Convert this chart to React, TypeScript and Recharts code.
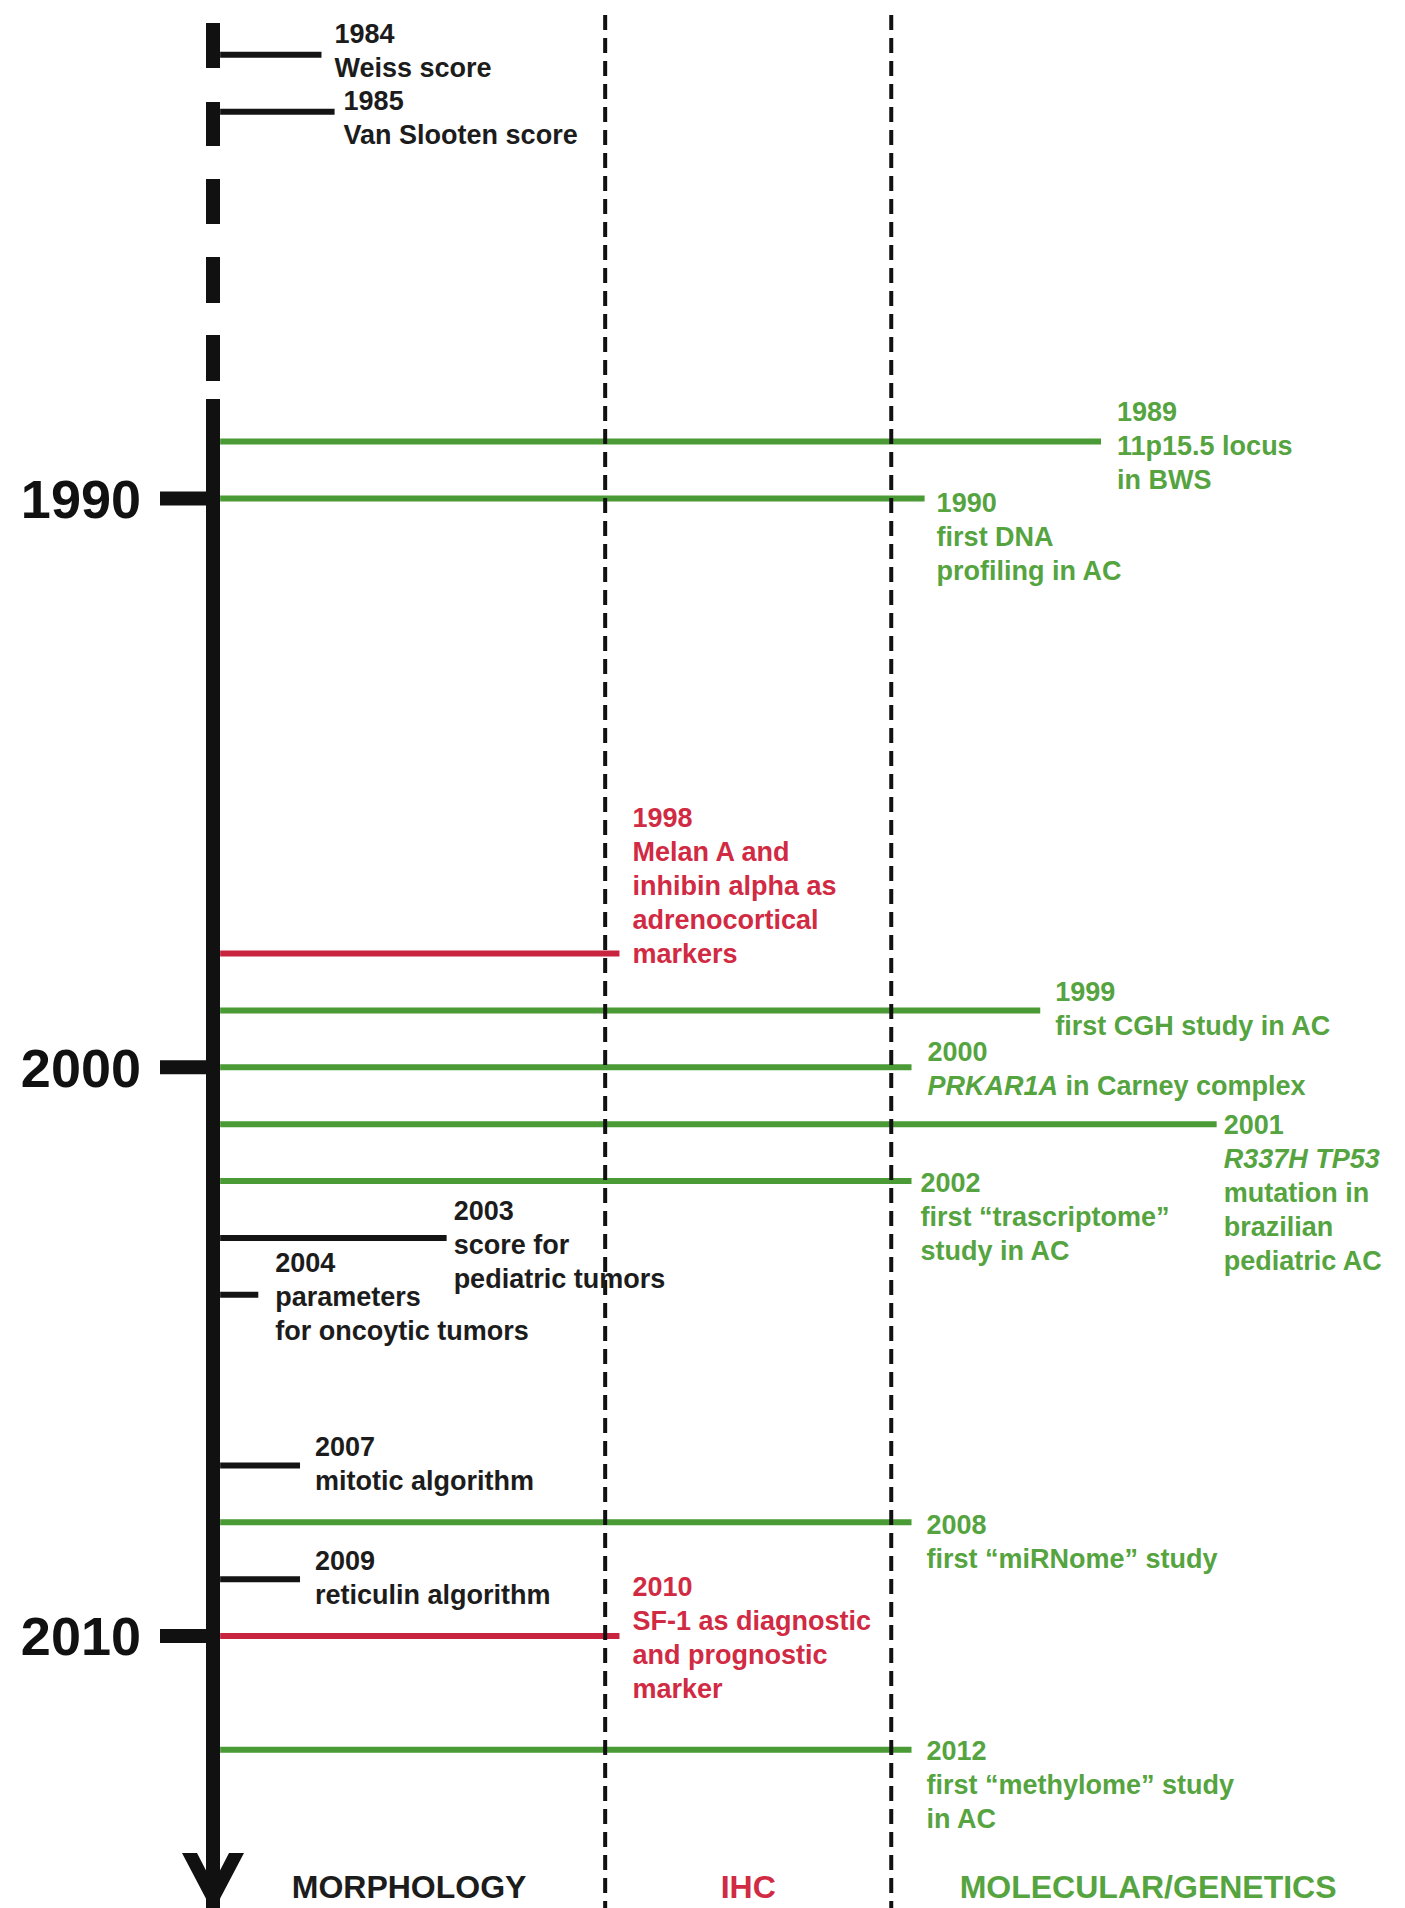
import {
  ScatterChart,
  Scatter,
  XAxis,
  YAxis,
  ReferenceLine,
  ReferenceDot,
} from "recharts";

// one entry per event on the timeline
const years = [1984, 1985, 1989, 1990, 1998, 1999, 2000, 2001, 2002, 2003, 2004, 2007, 2008, 2009, 2010, 2012];
const fields = ["morph", "morph", "mol", "mol", "ihc", "mol", "mol", "mol", "mol", "morph", "morph", "morph", "mol", "morph", "ihc", "mol"];
// how far each marker line reaches to the right (0-100 of the chart width)
const reach = [9.1, 10.2, 74.5, 59.7, 34.1, 69.4, 58.6, 84.2, 58.6, 19.6, 3.8, 7.3, 58.6, 7.3, 34.1, 58.6];
const notes: string[][] = [
  ["Weiss score"],
  ["Van Slooten score"],
  ["11p15.5 locus", "in BWS"],
  ["first DNA", "profiling in AC"],
  ["Melan A and", "inhibin alpha as", "adrenocortical", "markers"],
  ["first CGH study in AC"],
  ["*PRKAR1A* in Carney complex"],
  ["*R337H TP53*", "mutation in", "brazilian", "pediatric AC"],
  ["first \u201ctrascriptome\u201d", "study in AC"],
  ["score for", "pediatric tumors"],
  ["parameters", "for oncoytic tumors"],
  ["mitotic algorithm"],
  ["first \u201cmiRNome\u201d study"],
  ["reticulin algorithm"],
  ["SF-1 as diagnostic", "and prognostic", "marker"],
  ["first \u201cmethylome\u201d study", "in AC"],
];

const decadeTicks = [1990, 2000, 2010];
const columnNames = ["MORPHOLOGY", "IHC", "MOLECULAR/GENETICS"];
const columnEdges = [0, 32.9, 56.9, 100];
const columnKeys = ["morph", "ihc", "mol"];

// which text row sits on the marker line, and the gap before the text
const labelRow = [0.62, 0.34, 0.9, -0.1, 4, 0.55, 0.46, 0, -0.05, 0.82, 0.95, 0.56, -0.05, 0.55, 1.45, 0];
const labelGap = [13, 9, 16, 12, 13, 15, 16, 7, 9, 7, 17, 15, 15, 15, 13, 15];

const LINE_COLORS: Record<string, string> = { morph: "#141414", ihc: "#c8233f", mol: "#4a9a35" };
const TEXT_COLORS: Record<string, string> = { morph: "#1c1c1c", ihc: "#d12a43", mol: "#55a43f" };
const FONT = "'Liberation Sans', Arial, Helvetica, sans-serif";
const ROW_H = 34;

// the years before the break are drawn on the dashed stretch of the axis
const BREAK_BEFORE = 1988;
const BREAK_SHIFT = 1.8;
const axisPos = (y: number) => (y < BREAK_BEFORE ? y - BREAK_SHIFT : y);

const Y_MIN = 1981.5;
const Y_MAX = 2014.5;

const points = years.map((y, i) => ({ reach: reach[i], pos: axisPos(y), idx: i }));
const columnMids = columnEdges.slice(0, -1).map((e, i) => (e + columnEdges[i + 1]) / 2);

function richText(line: string) {
  return line.split("*").map((part, k) => (
    <tspan key={k} fontStyle={k % 2 === 1 ? "italic" : "normal"}>
      {part}
    </tspan>
  ));
}

function EventLabel(props: any) {
  const { cx, cy, payload } = props;
  const i = payload.idx;
  const rows = [String(years[i]), ...notes[i]];
  const x = cx + labelGap[i];
  return (
    <g>
      {rows.map((r, k) => (
        <text
          key={k}
          x={x}
          y={cy + (k - labelRow[i]) * ROW_H}
          dy="0.36em"
          fontFamily={FONT}
          fontWeight="bold"
          fontSize={27}
          fill={TEXT_COLORS[fields[i]]}
        >
          {richText(r)}
        </text>
      ))}
    </g>
  );
}

function DecadeTick(props: any) {
  const { x, y, payload } = props;
  return (
    <g>
      <line x1={x - 53} x2={x} y1={y} y2={y} stroke="#111" strokeWidth={14} />
      <text
        x={x - 72}
        y={y}
        dy="0.36em"
        textAnchor="end"
        fontFamily={FONT}
        fontWeight="bold"
        fontSize={54}
        fill="#111"
      >
        {payload.value}
      </text>
    </g>
  );
}

function ColumnTick(props: any) {
  const { x, y, index } = props;
  return (
    <text
      x={x}
      y={y}
      dy={6}
      textAnchor="middle"
      fontFamily={FONT}
      fontWeight="bold"
      fontSize={32}
      fill={TEXT_COLORS[columnKeys[index]]}
    >
      {columnNames[index]}
    </text>
  );
}

function ArrowHead(props: any) {
  const { cx, cy } = props;
  const top = cy - 39;
  const pts = [
    [cx - 31, top],
    [cx, cy + 20],
    [cx + 31, top],
    [cx + 16, top],
    [cx, cy - 8],
    [cx - 16, top],
  ]
    .map((p) => p.join(","))
    .join(" ");
  return (
    <g>
      <rect x={cx - 7} y={cy - 20} width={14} height={36} fill="#111" />
      <polygon points={pts} fill="#111" />
    </g>
  );
}

export default function App() {
  return (
    <div style={{ position: "absolute", left: 0, top: 0, width: 1405, height: 1908, background: "#fff" }}>
      <ScatterChart width={1405} height={1908} margin={{ top: 15, right: 0, bottom: 0, left: 0 }}>
        <XAxis
          type="number"
          dataKey="reach"
          domain={[0, 100]}
          ticks={columnMids}
          tick={<ColumnTick />}
          axisLine={false}
          tickLine={false}
          tickSize={0}
          tickMargin={0}
          height={16}
          interval={0}
        />
        <YAxis
          type="number"
          dataKey="pos"
          domain={[Y_MIN, Y_MAX]}
          reversed
          ticks={decadeTicks}
          tick={<DecadeTick />}
          tickLine={false}
          tickSize={0}
          tickMargin={0}
          width={213}
          interval={0}
          axisLine={{
            stroke: "#111",
            strokeWidth: 14,
            strokeDasharray: "0 8 45 34 44 33 45 33 46 32 46 18 4000",
          }}
        />

        {years.map((y, i) => (
          <ReferenceLine
            key={`ev-${y}-${i}`}
            segment={[
              { x: 0.6, y: axisPos(y) },
              { x: reach[i], y: axisPos(y) },
            ]}
            stroke={LINE_COLORS[fields[i]]}
            strokeWidth={6}
            ifOverflow="visible"
          />
        ))}

        {columnEdges.slice(1, -1).map((e) => (
          <ReferenceLine
            key={`col-${e}`}
            segment={[
              { x: e, y: Y_MIN },
              { x: e, y: Y_MAX + 0.3 },
            ]}
            stroke="#111"
            strokeWidth={4}
            strokeDasharray="15 8"
            ifOverflow="visible"
          />
        ))}

        <ReferenceDot x={0} y={Y_MAX} ifOverflow="visible" shape={<ArrowHead />} />

        <Scatter data={points} isAnimationActive={false} shape={<EventLabel />} />
      </ScatterChart>
    </div>
  );
}
